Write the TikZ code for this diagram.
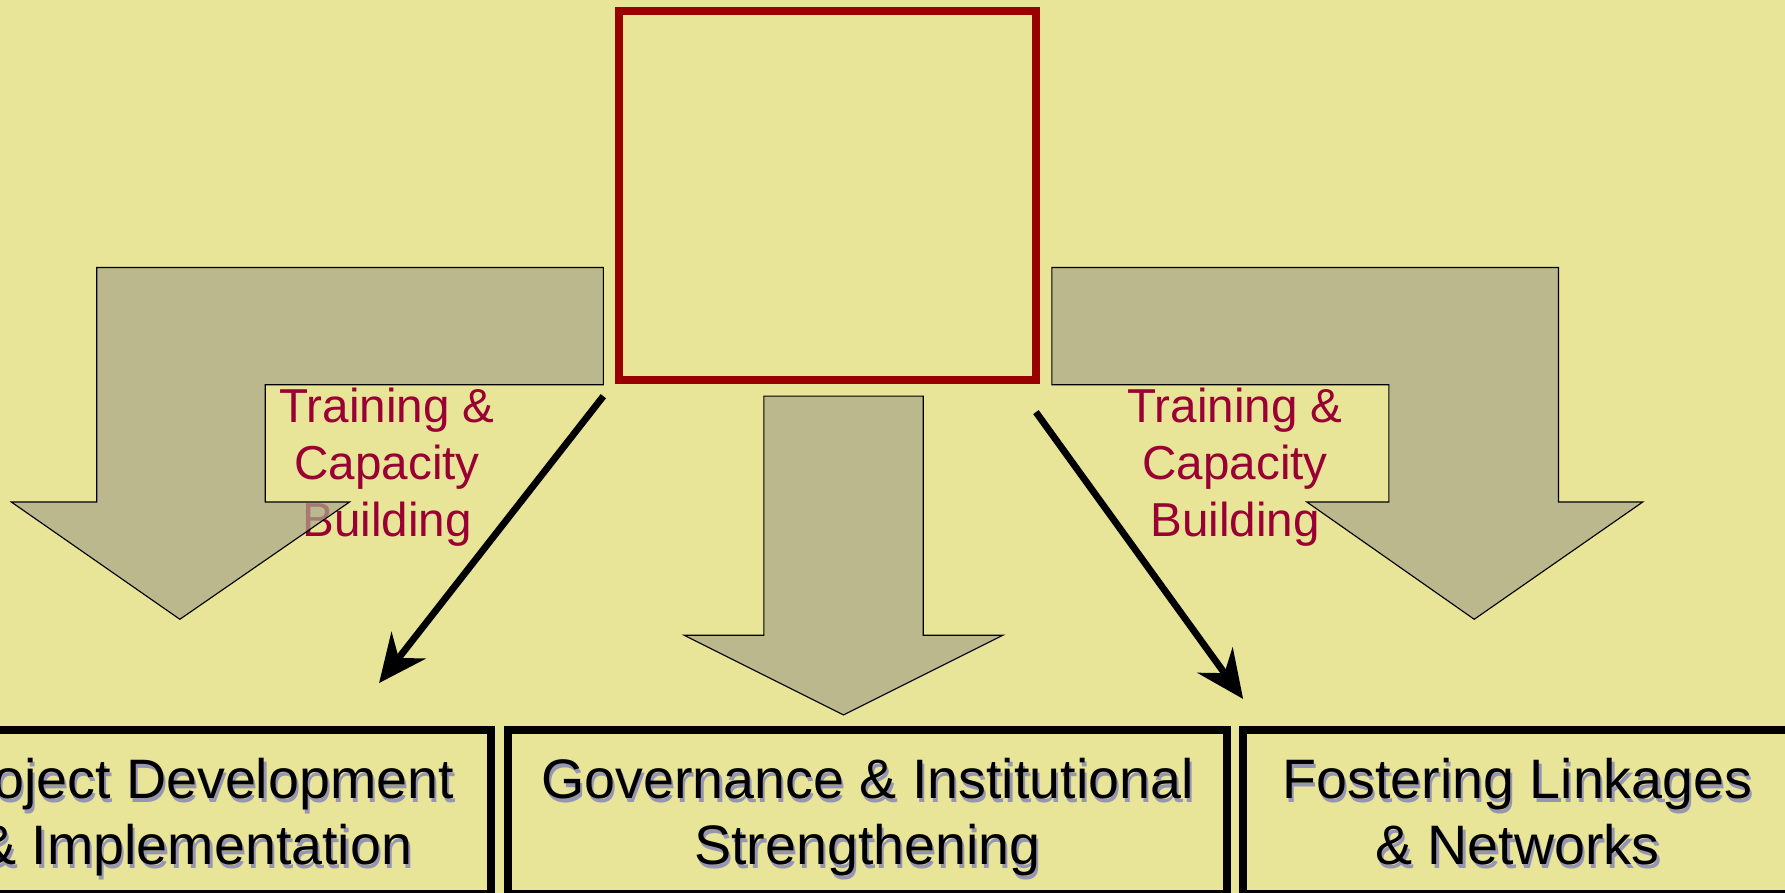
\documentclass[tikz,border=0pt]{standalone}
\usepackage{fontspec}
\setmainfont{Liberation Sans}
\usetikzlibrary{arrows.meta}

\definecolor{slidebg}{RGB}{233,229,152}
\definecolor{hubred}{RGB}{153,0,0}
\definecolor{cbred}{RGB}{153,0,51}
\definecolor{arrowgray}{RGB}{172,168,139}
\definecolor{shadowgray}{RGB}{150,150,178}

\tikzset{
  bigarrow/.style={draw=black,line width=0.1mm,fill=arrowgray,fill opacity=0.72},
  hub/.style={draw=hubred,line width=0.7mm,minimum width=36.6mm,minimum height=32.4mm,inner sep=0pt},
  cblabel/.style={text=cbred,font=\fontsize{11.9}{14.2}\selectfont,align=center,text depth=0pt},
  topictext/.style={font=\fontsize{13.9}{16.5}\selectfont,align=center,text depth=0pt},
  topicbox/.style={topictext,draw=black,line width=0.7mm,minimum height=14.4mm,inner sep=0pt},
  conn/.style={line width=0.6mm,-{Stealth[length=4.2mm,width=3.8mm,inset=1.4mm]}}
}

\begin{document}
\begin{tikzpicture}[x=0.1mm,y=-0.1mm]
\useasboundingbox (0,0) rectangle (1568,784);
\fill[slidebg] (0,0) rectangle (1568,784);

% labels under the bent arrows
\node[cblabel] (leftcb) at (340,406) {Training \&\\Capacity\\Building};
\node[cblabel] (rightcb) at (1085,406) {Training \&\\Capacity\\Building};

% block arrows
\draw[bigarrow] (85,235) -- (530,235) -- (530,338) -- (233,338) -- (233,441)
  -- (307,441) -- (158,544) -- (10,441) -- (85,441) -- cycle;
\draw[bigarrow] (671,348) -- (811,348) -- (811,558) -- (881,558) -- (741,628)
  -- (601,558) -- (671,558) -- cycle;
\draw[bigarrow] (924,235) -- (1369,235) -- (1369,441) -- (1443,441) -- (1295,544)
  -- (1148,441) -- (1220,441) -- (1220,338) -- (924,338) -- cycle;

% empty box on top
\node[hub] (hub) at (727,172) {};

% the three areas
\node[topictext,text=shadowgray] (projshadow) at (174,716) {Project Development\\\& Implementation};
\node[topicbox,minimum width=51.8mm] (projbox) at (172,713) {Project Development\\\& Implementation};
\node[topictext,text=shadowgray] (govshadow) at (764,716) {Governance \& Institutional\\Strengthening};
\node[topicbox,minimum width=63.2mm] (govbox) at (762,713) {Governance \& Institutional\\Strengthening};
\node[topictext,text=shadowgray] (linkshadow) at (1335,716) {Fostering Linkages\\\& Networks};
\node[topicbox,minimum width=48.2mm] (linkbox) at (1333,713) {Fostering Linkages\\\& Networks};

% connectors
\coordinate (leftfrom) at (530,348);
\coordinate (leftto) at (333,600);
\coordinate (rightfrom) at (910,362);
\coordinate (rightto) at (1092,614);
\draw[conn] (leftfrom) -- (leftto);
\draw[conn] (rightfrom) -- (rightto);
\end{tikzpicture}
\end{document}
